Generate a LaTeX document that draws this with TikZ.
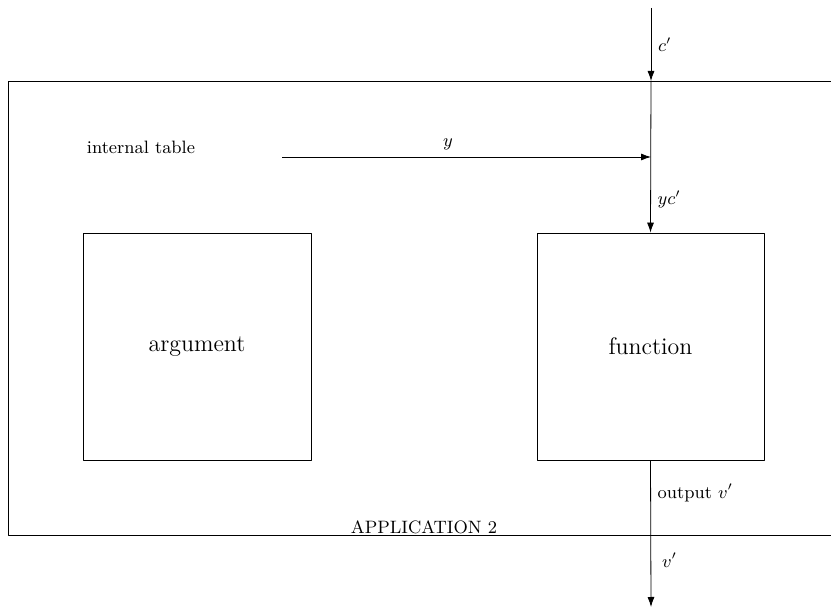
\documentclass[tikz,border=0pt]{standalone}
\usepackage[x11names, svgnames, rgb]{xcolor}
\usepackage{tikz}
\usetikzlibrary{arrows,arrows.meta,shapes}
\usepackage{amsmath}

\begin{document}
\begin{tikzpicture}[>={Latex[length=5bp,width=3.5bp]},line join=bevel,]
%%
\useasboundingbox (0bp,0bp) rectangle (415.5bp,305.5bp);
\draw (420bp,265.0bp) -- (4.0bp,265.0bp) -- (4.0bp,38.0bp) -- (420bp,38.0bp);
\node (argument) at (98.5bp,132.25bp) [draw,minimum width=114bp,minimum height=113.5bp] {\large argument};
  \node (function) at (325.25bp,132.25bp) [draw,minimum width=113.5bp,minimum height=113.5bp] {\large function};
  \coordinate (cin) at (325.5bp,301.5bp);
  \coordinate (ctop) at (325.5bp,265.0bp);
  \coordinate (join) at (325.5bp,227.0bp);
  \coordinate (ystart) at (141.0bp,227.0bp);
  \coordinate (vout) at (325.5bp,2.0bp);
  \node (table) at (70.5bp,232.0bp) {\small internal table};
  \node (app) at (212.0bp,38.0bp) [anchor=south,inner sep=0.5bp] {\small APPLICATION 2};
  \draw [->] (cin) -- node [right,pos=0.5] {\small$c'$} (ctop);
  \draw [->] (ctop) -- node [right,pos=0.78] {\small$yc'$} (function.north);
  \draw [->] (ystart) -- node [above,pos=0.45] {\small$y$} (join);
  \draw [->] (function.south) -- node [right,pos=0.22] {\small output $v'$} (vout);
  \node (vlabel) at (327.5bp,25.5bp) [anchor=west] {\small$v'$};
%
\end{tikzpicture}
\end{document}
